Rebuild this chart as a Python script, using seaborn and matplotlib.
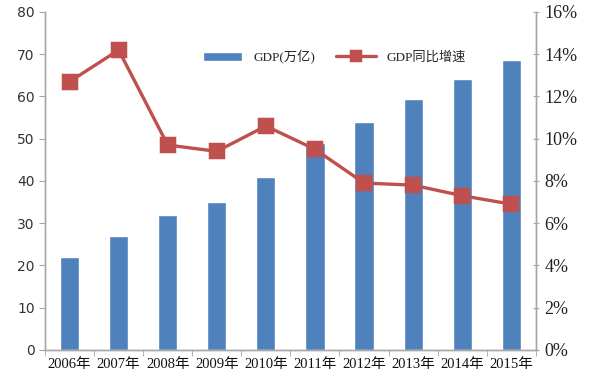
"""GDP total and year-on-year growth, 2006-2015 (bar + line, twin axes)."""

import matplotlib

matplotlib.use("Agg")
import matplotlib.pyplot as plt
import numpy as np
import pandas as pd
import seaborn as sns

years = ["2006年", "2007年", "2008年", "2009年", "2010年",
         "2011年", "2012年", "2013年", "2014年", "2015年"]
gdp = [21.9, 27.0, 32.0, 34.9, 41.0, 48.9, 54.0, 59.5, 64.2, 68.6]
growth = [12.7, 14.2, 9.7, 9.4, 10.6, 9.5, 7.9, 7.8, 7.3, 6.9]

left_ticks = [0, 10, 20, 30, 40, 50, 60, 70, 80]
right_ticks = [0, 2, 4, 6, 8, 10, 12, 14, 16]

BAR_COLOR = "#4F81BD"
LINE_COLOR = "#C0504D"
SPINE_COLOR = "#A6A6A6"
SERIF_CJK = ["Liberation Serif", "Noto Sans CJK SC"]

sns.set_style("white")
plt.rcParams["font.family"] = ["DejaVu Sans", "Noto Sans CJK SC"]

data = pd.DataFrame({"year": years, "gdp": gdp, "growth": growth})

fig = plt.figure(figsize=(6.0, 3.87), dpi=100)
ax = fig.add_axes([0.075, 0.096, 0.818, 0.873])

sns.barplot(data=data, x="year", y="gdp", ax=ax, color=BAR_COLOR,
            width=0.39, saturation=1, label="GDP(万亿)")
ax.set_ylim(0, 80)
ax.set_yticks(left_ticks)
ax.set_xlim(-0.5, len(years) - 0.5)
ax.set_xlabel("")
ax.set_ylabel("")

ax2 = ax.twinx()
sns.pointplot(data=data, x="year", y="growth", ax=ax2, color=LINE_COLOR,
              markers="s", markersize=9.5, linewidth=2.4, label="GDP同比增速")
if ax2.get_legend() is not None:
    ax2.get_legend().remove()
if ax.get_legend() is not None:
    ax.get_legend().remove()
ax2.set_ylim(0, 16)
ax2.set_yticks(right_ticks)
ax2.set_yticklabels([f"{t}%" for t in right_ticks])
ax2.set_xlim(-0.5, len(years) - 0.5)
ax2.set_xlabel("")
ax2.set_ylabel("")

for axis in (ax, ax2):
    axis.spines["top"].set_visible(False)
    for side in ("left", "right", "bottom"):
        axis.spines[side].set_color(SPINE_COLOR)
        axis.spines[side].set_linewidth(1.0)

ax.tick_params(axis="y", direction="out", length=4, color=SPINE_COLOR,
               labelsize=10, labelcolor="#333333", left=True)
ax2.tick_params(axis="y", direction="inout", length=5, color=SPINE_COLOR,
                labelsize=13, labelcolor="#222222", right=True)
for lbl in ax2.get_yticklabels():
    lbl.set_family(SERIF_CJK)

# category labels under the bars, tick marks between categories
ax.set_xticks(np.arange(len(years)))
ax.set_xticklabels(years, family=SERIF_CJK, fontsize=10.5, color="#111111")
ax.set_xticks(np.arange(len(years) + 1) - 0.5, minor=True)
ax.tick_params(axis="x", which="major", length=0, pad=6)
ax.tick_params(axis="x", which="minor", direction="out", length=4,
               color=SPINE_COLOR, bottom=True)

h1, l1 = ax.get_legend_handles_labels()
h2, l2 = ax2.get_legend_handles_labels()
fig.legend(h1 + h2, l1 + l2, loc="center", bbox_to_anchor=(0.557, 0.853),
           ncol=2, frameon=False, handlelength=3.0, columnspacing=1.6,
           markerscale=0.7, prop={"family": SERIF_CJK, "size": 9.5})

fig.savefig("out.png", dpi=100)
